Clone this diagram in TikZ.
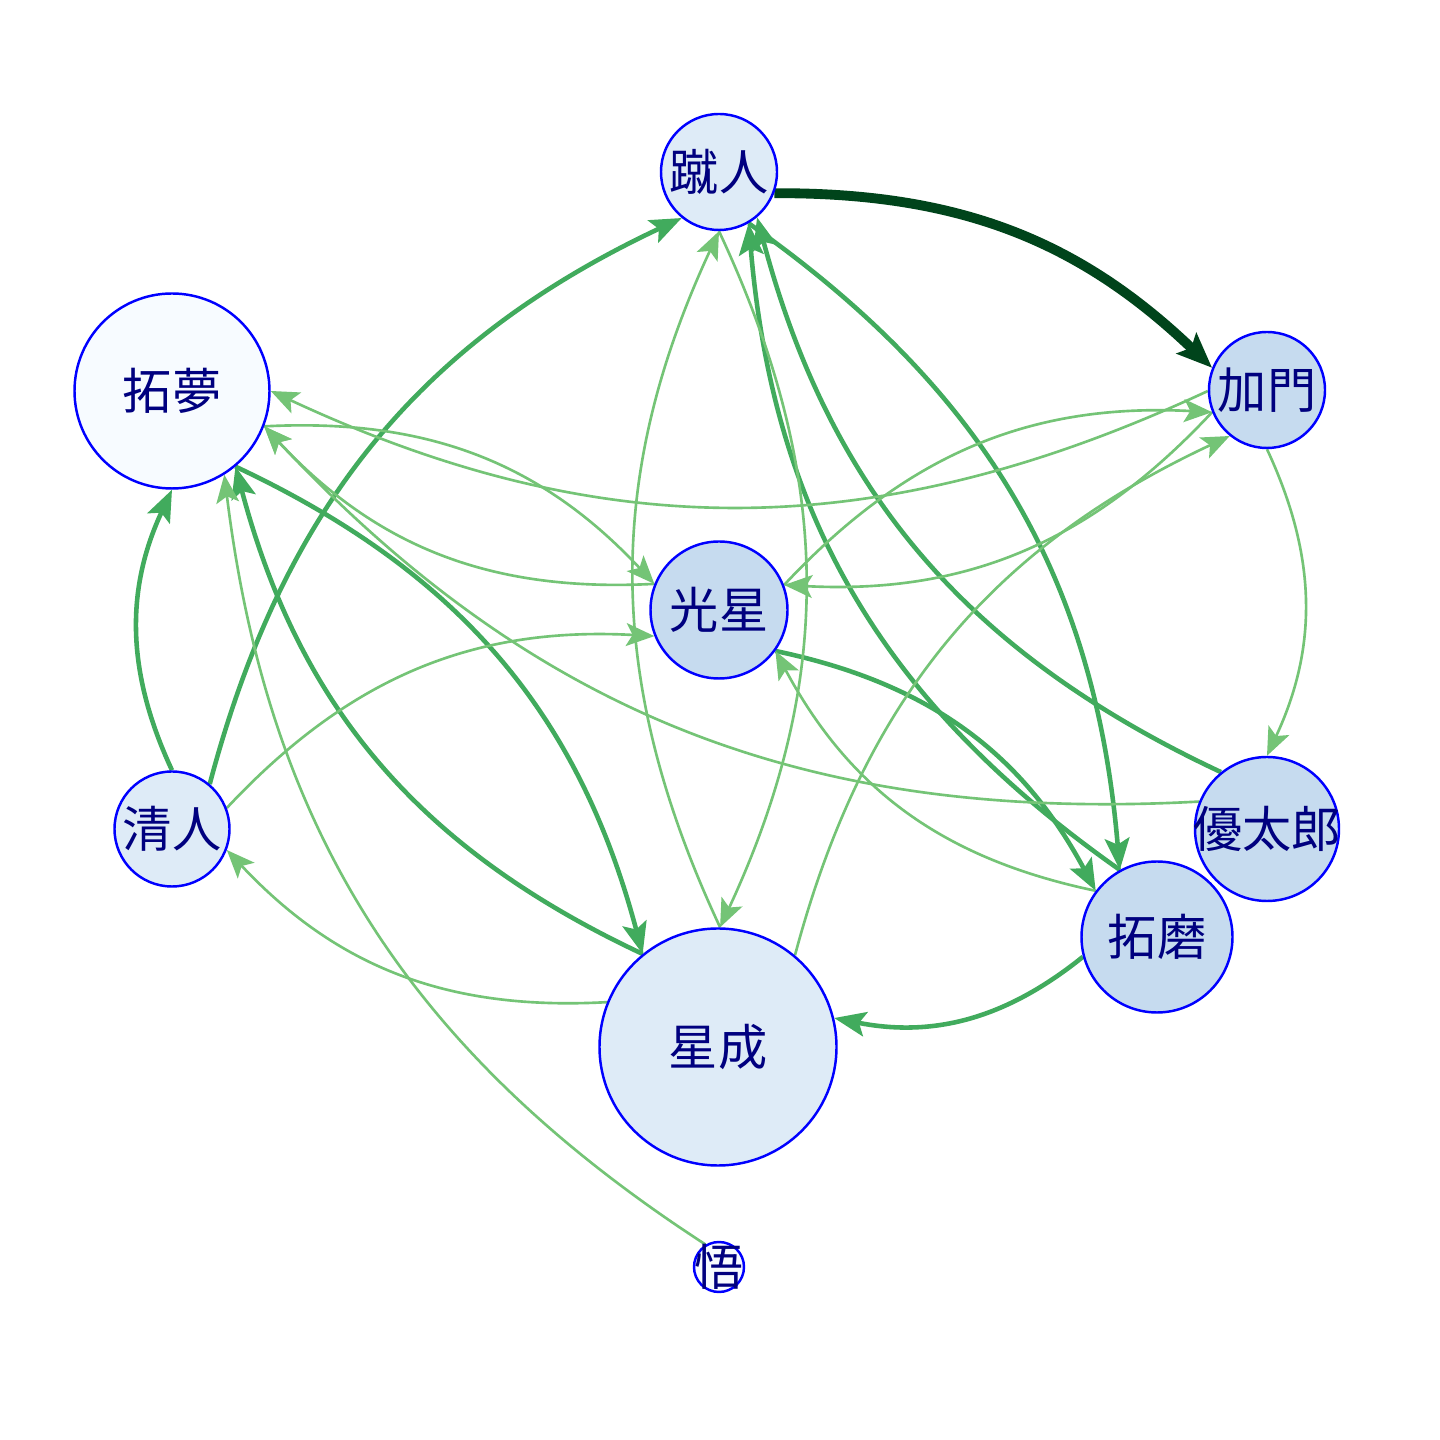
\documentclass[tikz,border=0pt]{standalone}
\usepackage{fontspec}
\newfontfamily\jpfont{Noto Sans CJK JP}
\usetikzlibrary{arrows.meta,backgrounds,calc}
\definecolor{edgelight}{HTML}{74C476}
\definecolor{edgemid}{HTML}{41AB5D}
\definecolor{edgedark}{HTML}{00441B}
\definecolor{fillpale}{HTML}{F7FBFF}
\definecolor{filllight}{HTML}{DEEBF7}
\definecolor{fillmid}{HTML}{C6DBEF}
\definecolor{labelnavy}{HTML}{00007F}
\tikzstyle{vertex} = [circle, draw=blue, line width=0.7pt, inner sep=0pt]
\tikzstyle{vlabel} = [font=\jpfont\fontsize{14}{14}\selectfont, text=labelnavy, inner sep=0pt]
\tikzstyle{edgeWeak} = [draw=edgelight, line width=0.75pt, -{Stealth[length=8pt,width=6.5pt,inset=1.8pt]}, bend left=25]
\tikzstyle{edgeMid} = [draw=edgemid, line width=1.3pt, -{Stealth[length=9pt,width=7pt,inset=1.8pt]}, bend left=25]
\tikzstyle{edgeStrong} = [draw=edgedark, line width=2.8pt, -{Stealth[length=10pt,width=8pt,inset=1.8pt]}, bend left=22]
\newcommand{\linkNodes}[3]{\draw [#1] let \p1=($(#3)-(#2)$), \n1={atan2(\y1,\x1)}, \n2={atan2(-\y1,-\x1)} in (#2.\n1) to (#3.\n2);}
\begin{document}
\begin{tikzpicture}
\useasboundingbox (0,0) rectangle (14.4,14.4);

\node (Shuto)[vertex, fill=filllight, minimum size=1.16cm, label={[vlabel]center:蹴人}] at (7.19,12.68) {};
\node (Takumu)[vertex, fill=fillpale, minimum size=1.95cm, label={[vlabel]center:拓夢}] at (1.72,10.49) {};
\node (Kamon)[vertex, fill=fillmid, minimum size=1.16cm, label={[vlabel]center:加門}] at (12.67,10.50) {};
\node (Kosei)[vertex, fill=fillmid, minimum size=1.37cm, label={[vlabel]center:光星}] at (7.19,8.30) {};
\node (Kiyoto)[vertex, fill=filllight, minimum size=1.15cm, label={[vlabel]center:清人}] at (1.72,6.11) {};
\node (Yutaro)[vertex, fill=fillmid, minimum size=1.44cm, label={[vlabel]center:優太郎}] at (12.67,6.11) {};
\node (Takuma)[vertex, fill=fillmid, minimum size=1.51cm, label={[vlabel]center:拓磨}] at (11.57,5.03) {};
\node (Seina)[vertex, fill=filllight, minimum size=2.37cm, label={[vlabel]center:星成}] at (7.18,3.93) {};
\node (Satoru)[vertex, fill=fillpale, minimum size=0.50cm, label={[vlabel]center:悟}] at (7.19,1.73) {};

\begin{scope}[on background layer]
\path[fill=white] (0,0) rectangle (14.4,14.4);
\linkNodes{edgeStrong}{Shuto}{Kamon}

\linkNodes{edgeMid}{Kiyoto}{Shuto}
\linkNodes{edgeMid}{Kiyoto}{Takumu}
\linkNodes{edgeMid}{Takumu}{Seina}
\linkNodes{edgeMid}{Seina}{Takumu}
\linkNodes{edgeMid}{Shuto}{Takuma}
\linkNodes{edgeMid}{Takuma}{Shuto}
\linkNodes{edgeMid}{Yutaro}{Shuto}
\linkNodes{edgeMid}{Kosei}{Takuma}
\linkNodes{edgeMid}{Takuma}{Seina}

\linkNodes{edgeWeak}{Seina}{Shuto}
\linkNodes{edgeWeak}{Shuto}{Seina}
\linkNodes{edgeWeak}{Kamon}{Takumu}
\linkNodes{edgeWeak}{Takumu}{Kosei}
\linkNodes{edgeWeak}{Kosei}{Takumu}
\linkNodes{edgeWeak}{Kiyoto}{Kosei}
\linkNodes{edgeWeak}{Kamon}{Kosei}
\linkNodes{edgeWeak}{Kosei}{Kamon}
\linkNodes{edgeWeak}{Seina}{Kamon}
\linkNodes{edgeWeak}{Seina}{Kiyoto}
\linkNodes{edgeWeak}{Satoru}{Takumu}
\linkNodes{edgeWeak}{Yutaro}{Takumu}
\linkNodes{edgeWeak}{Kamon}{Yutaro}
\linkNodes{edgeWeak}{Takuma}{Kosei}
\end{scope}
\end{tikzpicture}
\end{document}
